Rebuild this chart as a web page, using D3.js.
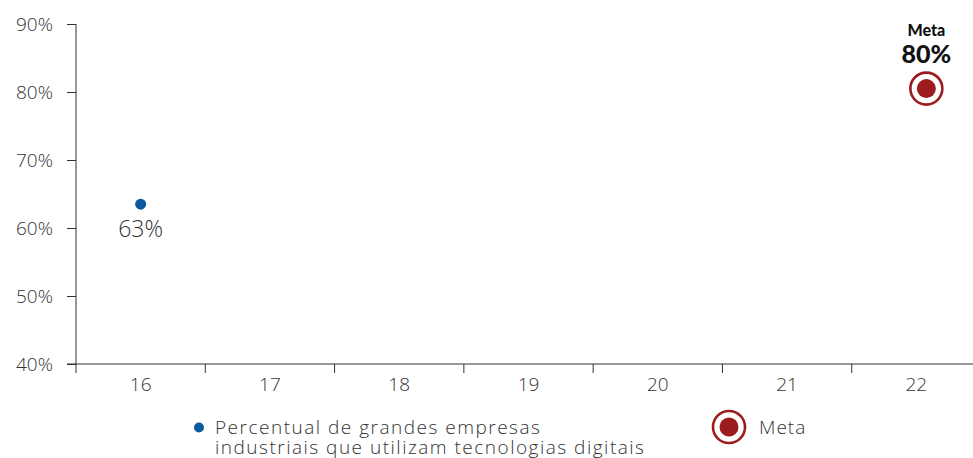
<!DOCTYPE html>
<html><head><meta charset="utf-8">
<script src="https://cdn.jsdelivr.net/npm/d3@7"></script>
<style>
html,body{margin:0;padding:0;background:#fff;}
svg{display:block;font-family:"Open Sans",Lato,sans-serif;font-weight:300;}
</style></head>
<body>
<svg id="chart" width="973" height="458"></svg>
<script>
const years = ["16","17","18","19","20","21","22"];
const yTicks = [40,50,60,70,80,90];
const seriesYears = ["16"];
const seriesValues = [63.5];
const seriesLabels = ["63%"];
const metaYears = ["22"];
const metaValues = [80.5];
const metaLabels = ["80%"];
const legendSeries = ["Percentual de grandes empresas", "industriais que utilizam tecnologias digitais"];
const legendMeta = "Meta";

const blue = "#0b5a9e", red = "#9c1b1f", txt = "#333", axisCol = "#333";
const font = "'Open Sans',Lato,sans-serif";
const svg = d3.select("#chart");
const mLeft = 76, mRight = 981, mTop = 24, mBottom = 364;

const x = d3.scaleBand().domain(years).range([mLeft, mRight]).padding(0);
const y = d3.scaleLinear().domain([40, 90]).range([mBottom, mTop]);

// Y axis
const yAxis = svg.append("g").attr("transform", `translate(${mLeft},0)`)
  .call(d3.axisLeft(y).tickValues(yTicks).tickSize(9).tickPadding(14).tickFormat(d => d + "%"));
yAxis.select(".domain").attr("d", `M0,${mTop}H0V${mBottom}`).attr("stroke", axisCol);
yAxis.selectAll(".tick line").attr("stroke", axisCol);
yAxis.selectAll(".tick text").attr("font-size", 19).attr("fill", txt).attr("font-family", font).attr("font-weight", 300).attr("dy", "0.36em");

// X axis
const xAxis = svg.append("g").attr("transform", `translate(0,${mBottom})`)
  .call(d3.axisBottom(x).tickSize(0).tickPadding(12));
xAxis.select(".domain").attr("d", `M${mLeft - 9},0H${mRight}`).attr("stroke", axisCol);
xAxis.selectAll(".tick text").attr("font-size", 19).attr("fill", txt).attr("font-family", font).attr("font-weight", 300).attr("dy", "0.78em");
// boundary ticks
xAxis.selectAll(".bt").data(years).join("line").attr("class", "bt")
  .attr("x1", d => x(d)).attr("x2", d => x(d)).attr("y1", 0).attr("y2", 9)
  .attr("stroke", axisCol);

// Series point
const pts = svg.append("g");
pts.selectAll("circle").data(seriesValues).join("circle")
  .attr("cx", (d, i) => x(seriesYears[i]) + x.bandwidth() / 2)
  .attr("cy", d => y(d)).attr("r", 5.5).attr("fill", blue);
pts.selectAll("text").data(seriesValues).join("text")
  .attr("x", (d, i) => x(seriesYears[i]) + x.bandwidth() / 2)
  .attr("y", d => y(d) + 33).attr("text-anchor", "middle")
  .attr("font-size", 23).attr("fill", txt).text((d, i) => seriesLabels[i]);

// Meta marker
const metaDx = 10;
const mg = svg.append("g");
metaValues.forEach((v, i) => {
  const cx = x(metaYears[i]) + x.bandwidth() / 2 + metaDx, cy = y(v);
  mg.append("circle").attr("cx", cx).attr("cy", cy).attr("r", 16).attr("fill", "#fff").attr("stroke", red).attr("stroke-width", 2.6);
  mg.append("circle").attr("cx", cx).attr("cy", cy).attr("r", 9.5).attr("fill", red);
  mg.append("text").attr("x", cx).attr("y", cy - 53).attr("text-anchor", "middle")
    .attr("font-family", "Lato,sans-serif").attr("font-size", 16).attr("font-weight", 900).attr("fill", "#111").text(legendMeta);
  mg.append("text").attr("x", cx).attr("y", cy - 26).attr("text-anchor", "middle")
    .attr("font-family", "Lato,sans-serif").attr("font-size", 25).attr("font-weight", 900).attr("fill", "#111").text(metaLabels[i]);
});

// Legend
const lg = svg.append("g");
lg.append("circle").attr("cx", 199).attr("cy", 427.5).attr("r", 5).attr("fill", blue);
lg.selectAll("text.ls").data(legendSeries).join("text").attr("class", "ls")
  .attr("x", 215).attr("y", (d, i) => 434 + i * 20)
  .attr("font-size", 19).attr("letter-spacing", 1.5).attr("fill", txt).text(d => d);
lg.append("circle").attr("cx", 729).attr("cy", 427).attr("r", 16).attr("fill", "#fff").attr("stroke", red).attr("stroke-width", 2.6);
lg.append("circle").attr("cx", 729).attr("cy", 427).attr("r", 9.5).attr("fill", red);
lg.append("text").attr("x", 759).attr("y", 434).attr("font-size", 19).attr("letter-spacing", 1).attr("fill", txt).text(legendMeta);
</script>
</body></html>
